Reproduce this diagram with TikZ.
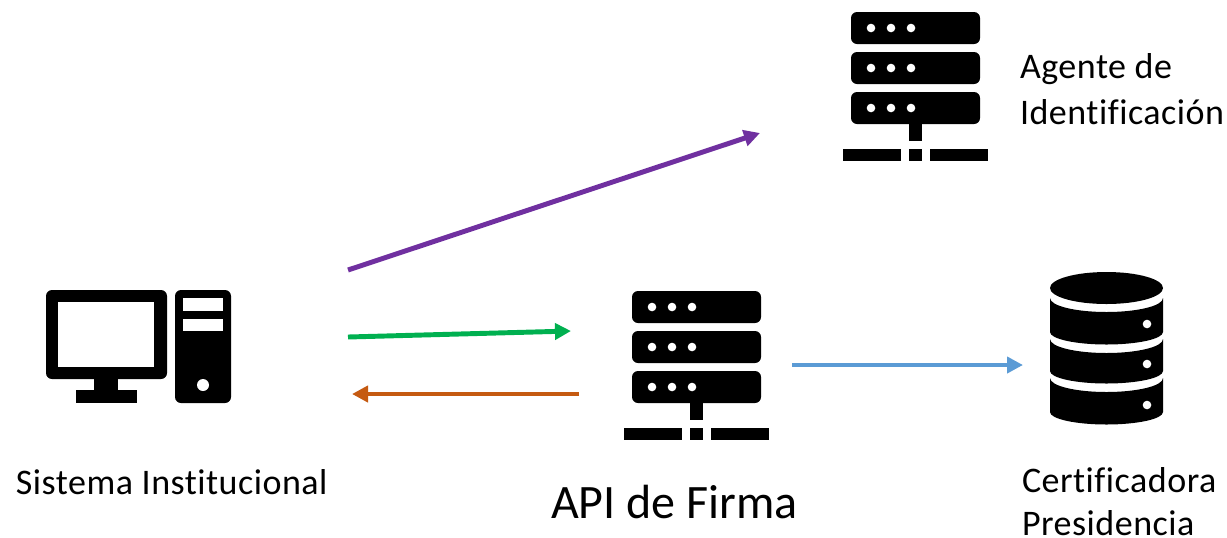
\documentclass[tikz,border=0pt]{standalone}
\usepackage{fontspec}
\setmainfont[Ligatures=NoCommon,LetterSpace=1.4]{Carlito}
\newfontfamily\bigfont[Ligatures=NoCommon]{Carlito}
\usetikzlibrary{arrows.meta}
\definecolor{cpurple}{HTML}{7030A0}
\definecolor{cgreen}{HTML}{00B050}
\definecolor{corange}{HTML}{C55A11}
\definecolor{cblue}{HTML}{5B9BD5}
\tikzset{
  x=0.75pt,y=-0.75pt,
  flow/.style={line width=3.7pt,-{Triangle[length=12pt,width=12pt]}},
  label/.style={anchor=base west,inner sep=0pt,outer sep=0pt,font=\fontsize{27}{32}\selectfont},
  biglabel/.style={anchor=base west,inner sep=0pt,outer sep=0pt,font=\bigfont\fontsize{36}{43}\selectfont},
  icon/.style={fill=black,draw=none},
  hole/.style={fill=white,draw=none},
  serverbox/.pic={
    \foreach \t in {12,52,92}{
      \fill[icon,rounded corners=4.5pt] (851,\t) rectangle (980,\t+32);
      \foreach \d in {871,891,911}{\fill[hole] (\d,\t+16) circle[radius=4.3];}
    }
    \fill[icon] (909,124) rectangle (922,141);
    \fill[icon] (843,149) rectangle (901,161);
    \fill[icon] (909,149) rectangle (922,161);
    \fill[icon] (930,149) rectangle (988,161);
  }
}
\newcommand{\drumband}[2]{% side y at start, side y at end
  \fill[icon] (1050,#1) .. controls (1050,#1+8) and (1076,#1+14) .. (1106.5,#1+14)
    .. controls (1137,#1+14) and (1163,#1+8) .. (1163,#1)
    -- (1163,#2) .. controls (1163,#2+7) and (1137,#2+12.5) .. (1106.5,#2+12.5)
    .. controls (1076,#2+12.5) and (1050,#2+7) .. (1050,#2) -- cycle;
}
\begin{document}
\begin{tikzpicture}
\useasboundingbox (0,0) rectangle (1227,537);
% server icons
\pic at (0,0) {serverbox};
\pic at (-219,279) {serverbox};
% desktop computer
\fill[icon,rounded corners=4.5pt] (46,290) rectangle (167,379);
\fill[hole] (58,302) rectangle (154,367);
\fill[icon] (94,379) rectangle (118,390);
\fill[icon] (76,390) rectangle (137,403);
\fill[icon,rounded corners=4.5pt] (175,290) rectangle (231,403);
\fill[hole] (183,298) rectangle (223,311);
\fill[hole] (183,319) rectangle (223,331);
\fill[hole] (203,385) circle[radius=6];
% database
\fill[icon] (1106.5,288) ellipse[x radius=56.5,y radius=16];
\drumband{298}{332}
\drumband{339}{371}
\drumband{378}{412}
\foreach \y in {324,364,405}{\fill[hole] (1147,\y) circle[radius=4.3];}
% labels
\node[label] (agente) at (1020,78) {Agente de};
\node[label] (ident) at (1020,124) {Identificación};
\node[label] (sistema) at (16,494) {Sistema Institucional};
\node[biglabel] (api) at (551,518) {API de Firma};
\node[label] (cert) at (1022,492) {Certificadora};
\node[label] (pres) at (1022,535) {Presidencia};
% connector ends
\coordinate (pa) at (348,270); \coordinate (pb) at (760,133);
\coordinate (ga) at (348,337); \coordinate (gb) at (571,331);
\coordinate (oa) at (579,394); \coordinate (ob) at (352,394);
\coordinate (ba) at (792,365); \coordinate (bb) at (1023,365);
\draw[flow,cpurple] (pa) -- (pb);
\draw[flow,cgreen] (ga) -- (gb);
\draw[flow,corange] (oa) -- (ob);
\draw[flow,cblue] (ba) -- (bb);
\end{tikzpicture}
\end{document}
